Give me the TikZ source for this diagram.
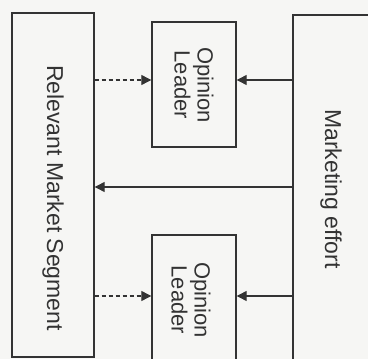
\documentclass[tikz,border=0pt]{standalone}
\usepackage{fontspec}
\setmainfont{Liberation Sans}
\usetikzlibrary{arrows.meta}
\definecolor{ink}{HTML}{333333}
\definecolor{paper}{HTML}{F6F6F4}
\begin{document}
\begin{tikzpicture}[x=1pt,y=-1pt,
  boxshape/.style={draw=ink,line width=1.4pt,inner sep=0pt,rectangle},
  lbl/.style={text=ink,rotate=-90,align=center,inner sep=0pt},
  bigfont/.style={font=\fontsize{23}{24}\selectfont},
  smallfont/.style={font=\fontsize{22}{23}\selectfont},
  solidarrow/.style={draw=ink,line width=1.2pt,-{Triangle[length=10pt,width=10pt]}},
  dasharrow/.style={draw=ink,line width=1.2pt,dash pattern=on 4pt off 3pt,-{Triangle[length=10pt,width=10pt]}}]
\useasboundingbox (0,0) rectangle (368,359);
\fill[paper] (0,0) rectangle (368,359);
\clip (0,0) rectangle (368,359);
% boxes
\node[boxshape,minimum width=82pt,minimum height=344pt] (seg) at (53,185) {};
\node[boxshape,minimum width=84pt,minimum height=125pt] (ol1) at (194,84.5) {};
\node[boxshape,minimum width=84pt,minimum height=165pt] (ol2) at (194,317.5) {};
\node[boxshape,minimum width=127pt,minimum height=405pt] (mkt) at (356.5,217.5) {};
% labels
\node[lbl,bigfont] (segtext) at (53,198) {Relevant Market Segment};
\node[lbl,bigfont] (mkttext) at (331,189) {Marketing effort};
\node[lbl,smallfont] (ol1text) at (194,85) {Opinion\\Leader};
\node[lbl,smallfont] (ol2text) at (191,300) {Opinion\\Leader};
% arrow levels
\coordinate (r1) at (0,80);
\coordinate (r2) at (0,187);
\coordinate (r3) at (0,296);
% connectors
\draw[dasharrow] (seg.east |- r1) -- (ol1.west |- r1);
\draw[solidarrow] (mkt.west |- r1) -- (ol1.east |- r1);
\draw[solidarrow] (mkt.west |- r2) -- (seg.east |- r2);
\draw[dasharrow] (seg.east |- r3) -- (ol2.west |- r3);
\draw[solidarrow] (mkt.west |- r3) -- (ol2.east |- r3);
\end{tikzpicture}
\end{document}
